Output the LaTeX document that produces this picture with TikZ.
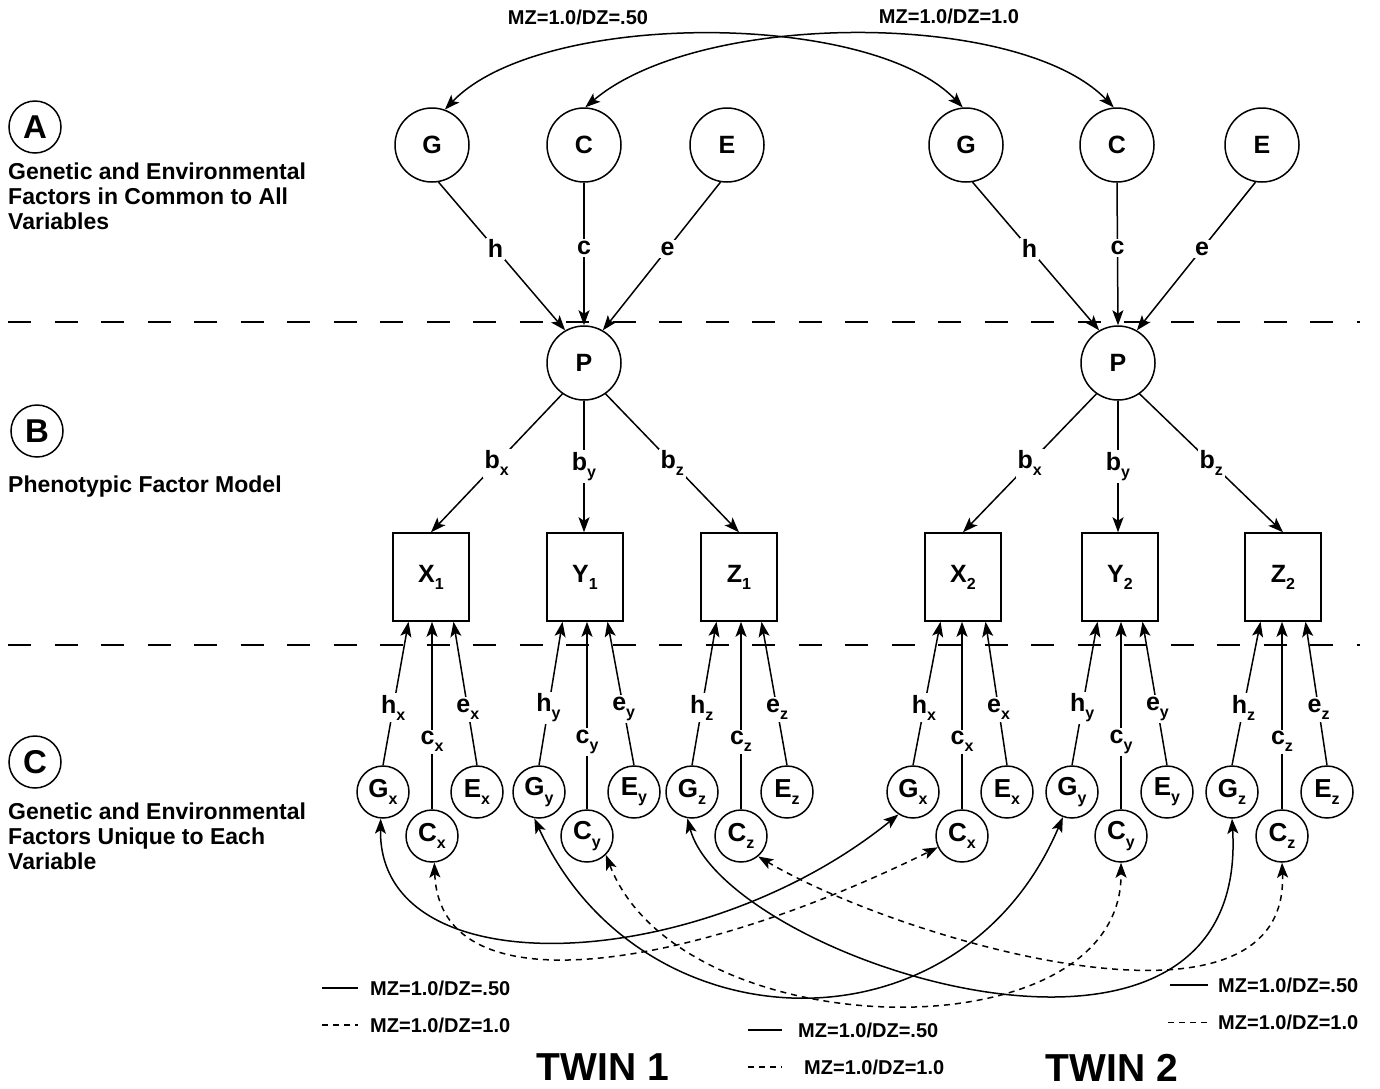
\documentclass[tikz,border=0pt]{standalone}
\usepackage{fontspec}
\setmainfont{Liberation Sans}
\usetikzlibrary{arrows.meta}
\newcommand\lowsub[1]{\raisebox{-0.28em}{\fontsize{16}{16}\selectfont #1}}
\newcommand\fs[1]{\fontsize{#1}{#1}\selectfont}

\begin{document}
\begin{tikzpicture}[x=1pt,y=-1pt,
  tip/.tip={Stealth[length=15pt,width=11pt,inset=3.5pt]},
  bigfac/.style={circle,draw,line width=1.5pt,minimum size=74pt,inner sep=0pt,font=\bfseries\fs{25}},
  smallfac/.style={circle,draw,line width=1.5pt,minimum size=52pt,inner sep=0pt,font=\bfseries\fs{26}},
  measure/.style={rectangle,draw,line width=1.5pt,minimum width=76pt,minimum height=88pt,inner sep=0pt,font=\bfseries\fs{25}},
  seccirc/.style={circle,draw,line width=1.5pt,minimum size=52pt,inner sep=0pt,font=\bfseries\fs{33}},
  sectext/.style={anchor=north west,align=left,inner sep=0pt,font=\bfseries\fontsize{23}{25}\selectfont},
  coef/.style={fill=white,inner sep=2pt,font=\bfseries\fs{25}},
  load/.style={line width=1.5pt,-tip},
  corr/.style={line width=1.5pt,tip-tip},
  dcorr/.style={corr,dash pattern=on 6pt off 5pt},
  sep/.style={line width=2pt,dash pattern=on 23pt off 23.5pt},
  legtext/.style={anchor=west,inner sep=0pt,font=\bfseries\fs{20}},
  twin/.style={inner sep=0pt,font=\bfseries\fs{39}},
  swatch/.style={line width=1.5pt},
  dswatch/.style={line width=1.5pt,dash pattern=on 6pt off 5pt}]
\useasboundingbox (0,0) rectangle (1380,1088);

% section separators
\coordinate (sepAl) at (8,322);  \coordinate (sepAr) at (1360,322);
\coordinate (sepBl) at (8,645);  \coordinate (sepBr) at (1360,645);
\draw[sep] (sepAl) -- (sepAr);
\draw[sep] (sepBl) -- (sepBr);

% section captions
\node[seccirc] (secA) at (35,127) {A};
\node[sectext] (txtA) at (8,163) {Genetic and Environmental\\Factors in Common to All\\Variables};
\node[seccirc] (secB) at (37,431) {B};
\node[sectext] (txtB) at (8,476) {Phenotypic Factor Model};
\node[seccirc] (secC) at (35,762) {C};
\node[sectext] (txtC) at (8,803) {Genetic and Environmental\\Factors Unique to Each\\Variable};

% common factors
\node[bigfac] (G1) at (432,145) {G};
\node[bigfac] (C1) at (584,145) {C};
\node[bigfac] (E1) at (727,145) {E};
\node[bigfac] (G2) at (966,145) {G};
\node[bigfac] (C2) at (1117,145) {C};
\node[bigfac] (E2) at (1262,145) {E};

% phenotypic factors
\node[bigfac] (P1) at (584,363) {P};
\node[bigfac] (P2) at (1118,363) {P};

% measured variables
\node[measure] (X1) at (431,577) {X\lowsub{1}};
\node[measure] (Y1) at (585,577) {Y\lowsub{1}};
\node[measure] (Z1) at (739,577) {Z\lowsub{1}};
\node[measure] (X2) at (963,577) {X\lowsub{2}};
\node[measure] (Y2) at (1120,577) {Y\lowsub{2}};
\node[measure] (Z2) at (1283,577) {Z\lowsub{2}};

% specific factors, twin 1
\node[smallfac] (Gx1) at (383,792) {G\lowsub{x}};
\node[smallfac] (Cx1) at (432,836) {C\lowsub{x}};
\node[smallfac] (Ex1) at (477,792) {E\lowsub{x}};
\node[smallfac] (Gy1) at (539,792) {G\lowsub{y}};
\node[smallfac] (Cy1) at (587,836) {C\lowsub{y}};
\node[smallfac] (Ey1) at (634,792) {E\lowsub{y}};
\node[smallfac] (Gz1) at (692,792) {G\lowsub{z}};
\node[smallfac] (Cz1) at (741,836) {C\lowsub{z}};
\node[smallfac] (Ez1) at (787,792) {E\lowsub{z}};
% specific factors, twin 2
\node[smallfac] (Gx2) at (913,792) {G\lowsub{x}};
\node[smallfac] (Cx2) at (962,836) {C\lowsub{x}};
\node[smallfac] (Ex2) at (1007,792) {E\lowsub{x}};
\node[smallfac] (Gy2) at (1072,792) {G\lowsub{y}};
\node[smallfac] (Cy2) at (1121,836) {C\lowsub{y}};
\node[smallfac] (Ey2) at (1167,792) {E\lowsub{y}};
\node[smallfac] (Gz2) at (1232,792) {G\lowsub{z}};
\node[smallfac] (Cz2) at (1282,836) {C\lowsub{z}};
\node[smallfac] (Ez2) at (1327,792) {E\lowsub{z}};

% common factor paths
\draw[load] (G1.-80) -- (P1.120) node[coef,pos=0.45] {h};
\draw[load] (C1.south) -- (P1.north) node[coef,pos=0.46] {c};
\draw[load] (E1.-100) -- (P1.60) node[coef,pos=0.45] {e};
\draw[load] (G2.-80) -- (P2.120) node[coef,pos=0.45] {h};
\draw[load] (C2.south) -- (P2.north) node[coef,pos=0.46] {c};
\draw[load] (E2.-100) -- (P2.60) node[coef,pos=0.45] {e};

% twin correlations of common factors
\draw[corr] (G1.70) .. controls (540,10) and (870,10) .. (G2.95);
\draw[corr] (C1.88) .. controls (700,10) and (1020,10) .. (C2.95);
\node[legtext,anchor=center] (topG) at (578,17) {MZ=1.0/DZ=.50};
\node[legtext,anchor=center] (topC) at (949,16) {MZ=1.0/DZ=1.0};

% factor loadings
\draw[load] (P1.-125) -- (X1.north) node[coef,pos=0.5] {b\lowsub{x}};
\draw[load] (P1.south) -- (P1.south |- Y1.north) node[coef,pos=0.5] {b\lowsub{y}};
\draw[load] (P1.-55) -- (Z1.north) node[coef,pos=0.5] {b\lowsub{z}};
\draw[load] (P2.-125) -- (X2.north) node[coef,pos=0.5] {b\lowsub{x}};
\draw[load] (P2.south) -- (P2.south |- Y2.north) node[coef,pos=0.5] {b\lowsub{y}};
\draw[load] (P2.-55) -- (Z2.north) node[coef,pos=0.5] {b\lowsub{z}};

% specific factor paths
\foreach \v/\b in {x/X1,y/Y1,z/Z1}{
  \draw[load] (G\v1.north) -- ([xshift=-22.5pt]\b.south) node[coef,pos=0.4] {h\lowsub{\v}};
  \draw[load] (C\v1.north) -- (C\v1.north |- \b.south) node[coef,pos=0.36] {c\lowsub{\v}};
  \draw[load] (E\v1.north) -- ([xshift=22.5pt]\b.south) node[coef,pos=0.39] {e\lowsub{\v}};
}
\foreach \v/\b in {x/X2,y/Y2,z/Z2}{
  \draw[load] (G\v2.north) -- ([xshift=-22.5pt]\b.south) node[coef,pos=0.4] {h\lowsub{\v}};
  \draw[load] (C\v2.north) -- (C\v2.north |- \b.south) node[coef,pos=0.36] {c\lowsub{\v}};
  \draw[load] (E\v2.north) -- ([xshift=22.5pt]\b.south) node[coef,pos=0.39] {e\lowsub{\v}};
}

% twin correlations of specific factors
\draw[corr] (Gx1.-95) .. controls (378,990) and (700,975) .. (Gx2.-123);
\draw[corr] (Gy1.-100) .. controls (640,1050) and (960,1060) .. (Gy2.-110);
\draw[corr] (Gz1.-100) .. controls (725,960) and (1250,1130) .. (Gz2.-90);
\draw[dcorr] (Cx1.-85) .. controls (440,1015) and (700,965) .. (Cx2.-155);
\draw[dcorr] (Cy1.-45) .. controls (680,1048) and (1122,1058) .. (Cy2.south);
\draw[dcorr] (Cz1.-50) .. controls (900,940) and (1290,1055) .. (Cz2.south);

% legends
\coordinate (lgAa) at (322,988);  \coordinate (lgAb) at (358,988);
\coordinate (lgAc) at (322,1025); \coordinate (lgAd) at (358,1025);
\draw[swatch] (lgAa) -- (lgAb);
\node[legtext] (lgAt) at (370,988) {MZ=1.0/DZ=.50};
\draw[dswatch] (lgAc) -- (lgAd);
\node[legtext] (lgAu) at (370,1025) {MZ=1.0/DZ=1.0};

\coordinate (lgBa) at (748,1030); \coordinate (lgBb) at (782,1030);
\coordinate (lgBc) at (748,1067); \coordinate (lgBd) at (782,1067);
\draw[swatch] (lgBa) -- (lgBb);
\node[legtext] (lgBt) at (798,1030) {MZ=1.0/DZ=.50};
\draw[dswatch] (lgBc) -- (lgBd);
\node[legtext] (lgBu) at (804,1067) {MZ=1.0/DZ=1.0};

\coordinate (lgCa) at (1170,985);  \coordinate (lgCb) at (1208,985);
\coordinate (lgCc) at (1168,1022); \coordinate (lgCd) at (1208,1022);
\draw[swatch] (lgCa) -- (lgCb);
\node[legtext] (lgCt) at (1218,985) {MZ=1.0/DZ=.50};
\draw[dswatch,line width=0.8pt] (lgCc) -- (lgCd);
\node[legtext] (lgCu) at (1218,1022) {MZ=1.0/DZ=1.0};

% twin captions
\node[twin] (tw1) at (603,1067) {TWIN 1};
\node[twin] (tw2) at (1112,1068) {TWIN 2};
\end{tikzpicture}
\end{document}
